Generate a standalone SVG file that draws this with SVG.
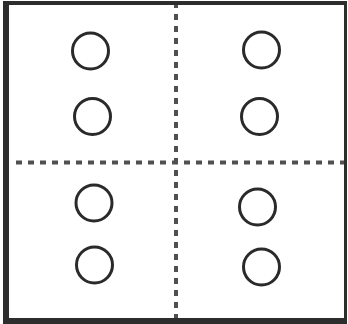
<svg xmlns="http://www.w3.org/2000/svg" width="348" height="324" viewBox="0 0 348 324">
<style>
.frame{fill:#2d2d2d;fill-rule:evenodd}
.div{stroke:#505050;stroke-width:4;stroke-dasharray:6 6;fill:none}
.node circle{fill:none;stroke:#2a2a2a;stroke-width:3}
</style>
<rect width="348" height="324" fill="#ffffff"/>
<g id="connectors">
<line class="div" x1="176" y1="2" x2="176" y2="320"/>
<line class="div" x1="16" y1="162.5" x2="346" y2="162.5"/>
</g>
<path class="frame" d="M3 1H347V324H3Z M9 5V318H344V5Z"/>
<g id="n1" class="node"><circle cx="90.5" cy="51" r="18"/></g>
<g id="n2" class="node"><circle cx="92.5" cy="116.5" r="18"/></g>
<g id="n3" class="node"><circle cx="94" cy="203" r="18"/></g>
<g id="n4" class="node"><circle cx="94.5" cy="265" r="18"/></g>
<g id="n5" class="node"><circle cx="261.5" cy="50" r="18"/></g>
<g id="n6" class="node"><circle cx="259.5" cy="116.5" r="18"/></g>
<g id="n7" class="node"><circle cx="257.5" cy="207" r="18"/></g>
<g id="n8" class="node"><circle cx="261.5" cy="267" r="18"/></g>
</svg>
